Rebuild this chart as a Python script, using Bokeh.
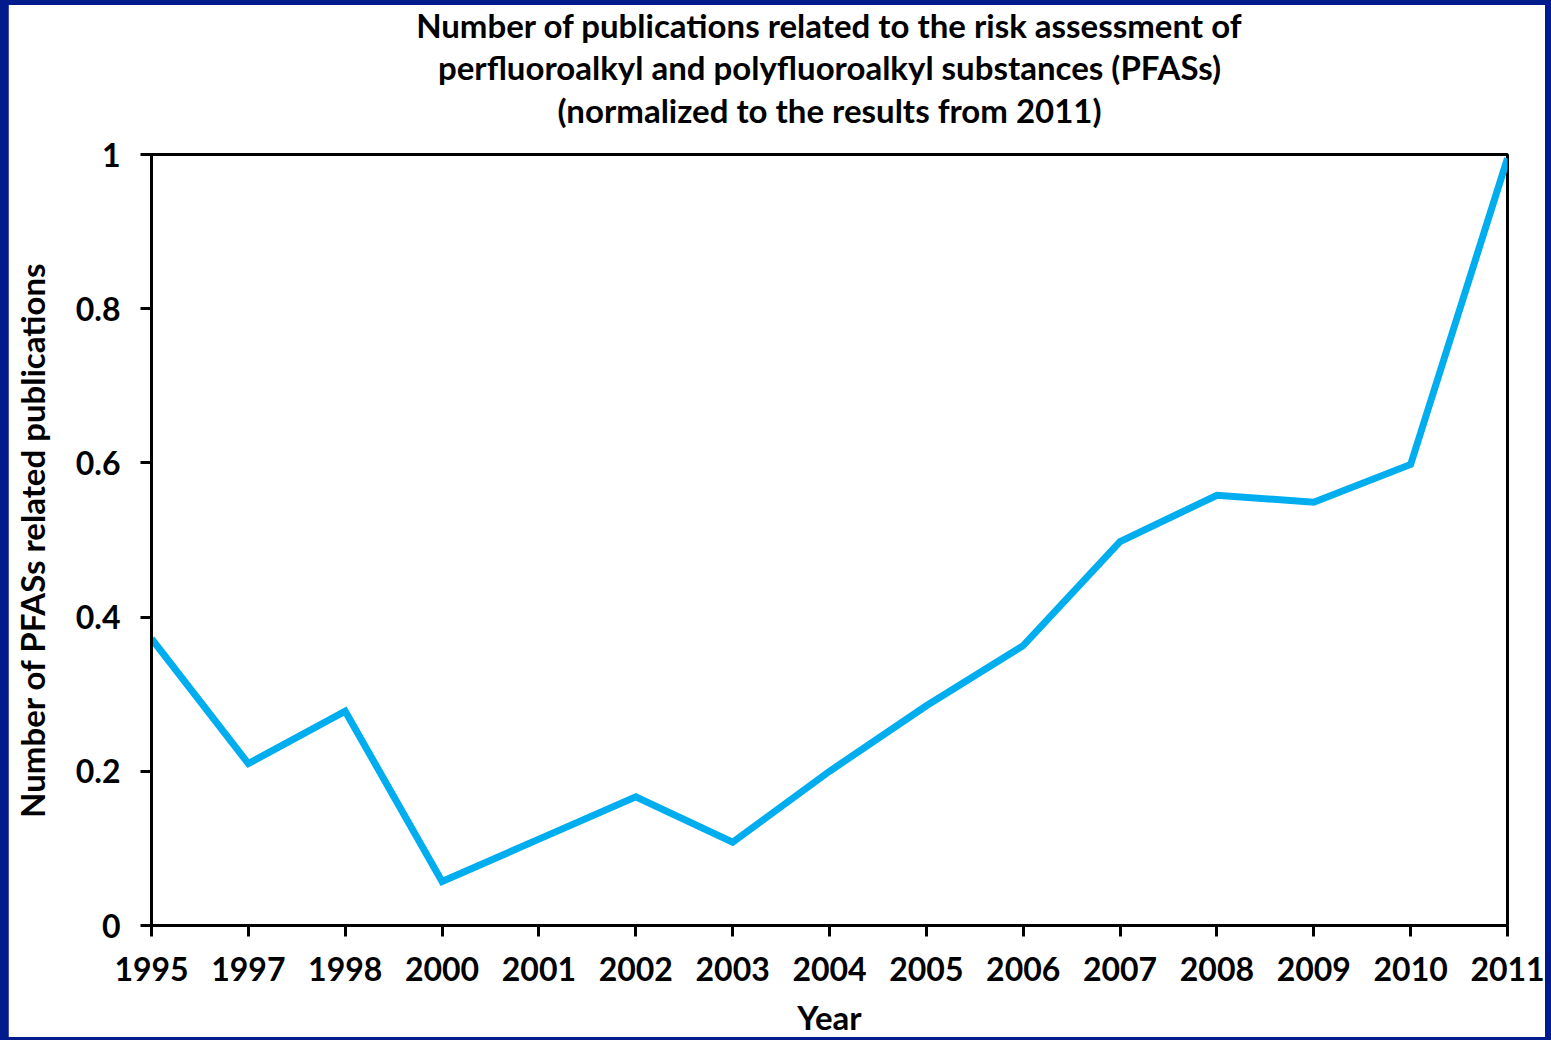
from bokeh.plotting import figure
from bokeh.models import FixedTicker, Title
from bokeh.embed import file_html
from bokeh.resources import INLINE

years = ["1995", "1997", "1998", "2000", "2001", "2002", "2003", "2004",
         "2005", "2006", "2007", "2008", "2009", "2010", "2011"]
values = [0.372, 0.210, 0.278, 0.057, 0.112, 0.167, 0.108, 0.200,
          0.285, 0.363, 0.498, 0.558, 0.549, 0.598, 0.995]
y_ticks = [0, 0.2, 0.4, 0.6, 0.8, 1.0]
y_tick_labels = ["0", "0.2", "0.4", "0.6", "0.8", "1"]
title_lines = ["Number of publications related to the risk assessment of",
               "perfluoroalkyl and polyfluoroalkyl substances (PFASs)",
               "(normalized to the results from 2011)"]

FONT = "Lato"
xs = list(range(len(years)))

p = figure(frame_width=1356, frame_height=771, output_backend="svg", toolbar_location=None,
           x_range=(0, len(years) - 1), y_range=(0, 1),
           min_border_left=143, min_border_right=38, min_border_top=157, min_border_bottom=115)

p.line(xs, values, line_color="#00AEEF", line_width=7, line_join="miter")

# spacer between frame and title block
p.add_layout(Title(text=" ", text_font_size="20px", standoff=0), "above")
# title lines: added bottom-first so that later ones stack above
for i, line in enumerate(reversed(title_lines)):
    t = Title(text=line, align="center", text_font=FONT, text_font_size="33px",
              text_font_style="bold", text_color="black", text_line_height=1.1,
              standoff=(0 if i == 2 else 1))
    p.add_layout(t, "above")

p.xgrid.visible = False
p.ygrid.visible = False
p.outline_line_color = "black"
p.outline_line_width = 3
p.outline_line_alpha = 1

for ax in (p.xaxis[0], p.yaxis[0]):
    ax.axis_line_width = 3
    ax.major_tick_line_width = 3
    ax.major_tick_out = 11
    ax.major_tick_in = 0
    ax.minor_tick_line_color = None
    ax.major_label_text_font = FONT
    ax.major_label_text_font_size = "32px"
    ax.major_label_text_font_style = "bold"
    ax.major_label_text_color = "black"
    ax.axis_label_text_font = FONT
    ax.axis_label_text_font_size = "33px"
    ax.axis_label_text_font_style = "bold"
    ax.axis_label_text_color = "black"
    ax.axis_label_text_line_height = 1.0

p.xaxis.ticker = FixedTicker(ticks=xs)
p.xaxis.major_label_overrides = {i: y for i, y in enumerate(years)}
p.xaxis.major_label_standoff = 20
p.xaxis.axis_label = "Year"
p.xaxis.axis_label_standoff = 13

p.yaxis.ticker = FixedTicker(ticks=y_ticks)
p.yaxis.major_label_overrides = {t: l for t, l in zip(y_ticks, y_tick_labels)}
p.yaxis.major_label_standoff = 20
p.yaxis.axis_label = "Number of PFASs related publications"
p.yaxis.axis_label_standoff = 21

css = ("<style>html, body { background: #011a8c; } "
       "body { padding: 0 0 0 8px; margin-top: -3px; } "
       "body::before { content: ''; position: fixed; top: 0; left: 0; right: 0; "
       "height: 5px; background: #011a8c; z-index: 1000; }</style></head>")
html = file_html(p, INLINE)
html = html.replace("</head>", css, 1)
open("out.html", "w").write(html)
